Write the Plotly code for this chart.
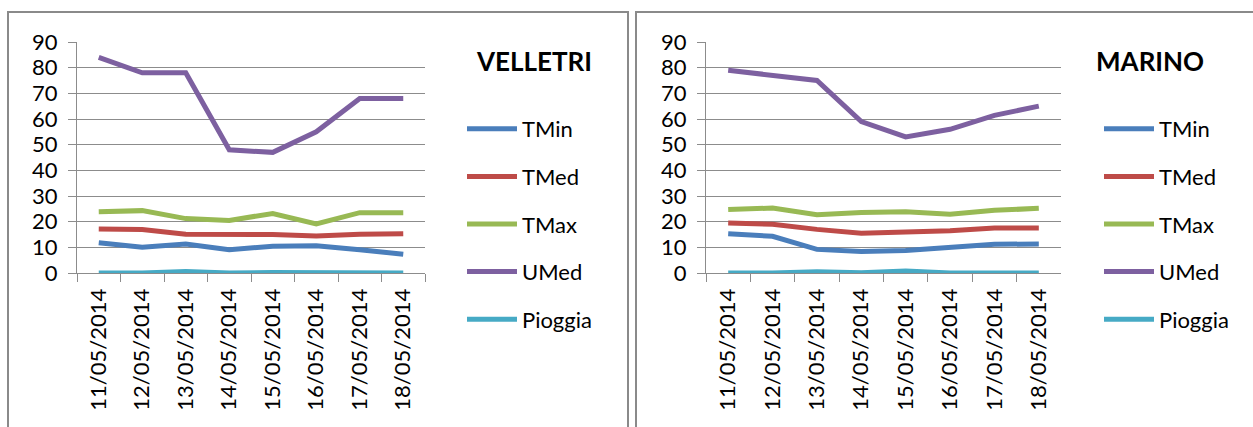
import plotly.graph_objects as go

dates = ["11/05/2014", "12/05/2014", "13/05/2014", "14/05/2014",
         "15/05/2014", "16/05/2014", "17/05/2014", "18/05/2014"]
series_names = ["TMin", "TMed", "TMax", "UMed", "Pioggia"]
colors = ["#4A7EBB", "#BE4B48", "#98B954", "#7D60A0", "#46AAC5"]

velletri_tmin = [11.8, 10.0, 11.3, 9.1, 10.4, 10.6, 9.1, 7.3]
velletri_tmed = [17.1, 16.9, 15.1, 15.1, 15.0, 14.4, 15.1, 15.3]
velletri_tmax = [23.9, 24.3, 21.2, 20.5, 23.2, 19.1, 23.5, 23.5]
velletri_umed = [84, 78, 78, 48, 47, 55, 68, 68]
velletri_pioggia = [0, 0, 0.6, 0, 0.2, 0, 0, 0]

marino_tmin = [15.3, 14.3, 9.2, 8.4, 8.8, 10.1, 11.2, 11.3]
marino_tmed = [19.5, 19.0, 17.0, 15.5, 16.0, 16.5, 17.5, 17.5]
marino_tmax = [24.7, 25.3, 22.7, 23.6, 23.9, 22.9, 24.4, 25.2]
marino_umed = [79, 77, 75, 59, 53, 56, 61.4, 65]
marino_pioggia = [0, 0, 0.5, 0.1, 0.8, 0, 0, 0]

panels = [
    ("VELLETRI", [velletri_tmin, velletri_tmed, velletri_tmax, velletri_umed, velletri_pioggia]),
    ("MARINO", [marino_tmin, marino_tmed, marino_tmax, marino_umed, marino_pioggia]),
]

W, H = 1253, 427
FONT = "Lato"
GRID = "#8C8C8C"

fig = go.Figure()

xdomains = [[77 / W, 425 / W], [706 / W, 1061 / W]]
ydomain = [1 - 273 / H, 1 - 42 / H]
legend_x = [462 / W, 1099 / W]
title_x = [474 / W, 1094 / W]

for p, (name, data) in enumerate(panels):
    xa = "x" if p == 0 else "x2"
    ya = "y" if p == 0 else "y2"
    lg = "legend" if p == 0 else "legend2"
    for i, (sname, vals) in enumerate(zip(series_names, data)):
        fig.add_trace(go.Scatter(
            x=dates, y=vals, name=sname, mode="lines",
            line=dict(color=colors[i], width=5),
            xaxis=xa, yaxis=ya, legend=lg,
            legendgroup=f"{p}_{i}",
        ))
    fig.add_annotation(
        text=f"<b>{name}</b>", xref="paper", yref="paper",
        x=title_x[p], y=1 - 61 / H, xanchor="left", yanchor="middle",
        showarrow=False, font=dict(family=FONT, size=26, color="black"),
    )

axis_common = dict(
    showline=True, linecolor=GRID, linewidth=1, automargin=False,
    ticks="outside", tickcolor=GRID, ticklen=8, tickwidth=1,
    tickfont=dict(family=FONT, size=22, color="black"),
)
for p in range(2):
    sfx = "" if p == 0 else "2"
    fig.update_layout(**{
        f"xaxis{sfx}": dict(
            domain=xdomains[p], anchor=f"y{sfx}", type="category",
            range=[-0.5, 7.5], tickson="boundaries", tickangle=-90,
            showgrid=False, zeroline=False, ticklabelstandoff=6, **axis_common),
        f"yaxis{sfx}": dict(
            domain=ydomain, anchor=f"x{sfx}", range=[0, 90],
            tickvals=list(range(0, 91, 10)), showgrid=True, gridcolor=GRID,
            gridwidth=1, zeroline=False, ticklabelstandoff=6, **axis_common),
    })

legend_common = dict(
    yanchor="top", xanchor="left", traceorder="grouped",
    tracegroupgap=16, font=dict(family=FONT, size=22, color="black"),
    bgcolor="rgba(0,0,0,0)", itemwidth=50,
)
fig.update_layout(
    legend=dict(x=legend_x[0], y=1 - 108 / H, **legend_common),
    legend2=dict(x=legend_x[1], y=1 - 108 / H, **legend_common),
)

# panel borders
fig.add_shape(type="rect", xref="paper", yref="paper",
              x0=8 / W, x1=628 / W, y0=-0.05, y1=1 - 12 / H,
              line=dict(color="#8A8A8A", width=2), layer="below")
fig.add_shape(type="rect", xref="paper", yref="paper",
              x0=636 / W, x1=1.05, y0=-0.05, y1=1 - 12 / H,
              line=dict(color="#8A8A8A", width=2), layer="below")

fig.update_layout(
    width=W, height=H, margin=dict(l=0, r=0, t=0, b=0),
    paper_bgcolor="white", plot_bgcolor="white", showlegend=True,
)

fig.write_html(
    "out.html",
    config={"displayModeBar": False},
    post_script="document.body.style.margin='0';document.body.style.overflow='hidden';",
)
